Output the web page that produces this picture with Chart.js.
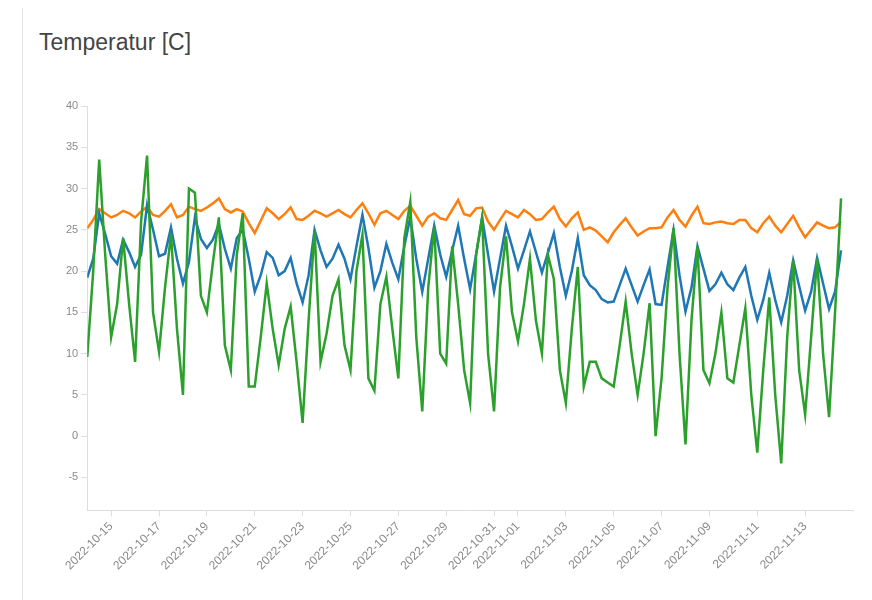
<!DOCTYPE html>
<html>
<head>
<meta charset="utf-8">
<script src="https://cdn.jsdelivr.net/npm/chart.js@4.4.0/dist/chart.umd.min.js"></script>
<style>
  body { margin: 0; background: #fff; font-family: "Liberation Sans", Arial, sans-serif; }
  .card { position: absolute; left: 22px; top: 8px; width: 850px; height: 592px; border-left: 1px solid #e6e6e6; }
  h3 { position: absolute; left: 16px; top: 21px; margin: 0; font-size: 23px; font-weight: normal; color: #444; }
  .wrap { position: absolute; left: 10px; top: 88px; width: 832px; height: 480px; }
</style>
</head>
<body>
<div class="card">
  <h3>Temperatur [C]</h3>
  <div class="wrap"><canvas id="chart"></canvas></div>
</div>
<script>
// ================== DATEN ==================
// Messwerte alle 6 Stunden ab 2022-10-14 00:00
const startDate = "2022-10-14";
const stepHours = 6;

const tickDates = [
  "2022-10-15", "2022-10-17", "2022-10-19", "2022-10-21", "2022-10-23",
  "2022-10-25", "2022-10-27", "2022-10-29", "2022-10-31", "2022-11-01",
  "2022-11-03", "2022-11-05", "2022-11-07", "2022-11-09", "2022-11-11",
  "2022-11-13"
];
const yTicks = [-5, 0, 5, 10, 15, 20, 25, 30, 35, 40];

const blau = [
  19.2, 21.5, 27, 24.5,   21.8, 20.9, 23.8, 22.3,   20.5, 22, 28, 25,
  21.8, 22.1, 25.3, 21.5, 18.5, 21.1, 26.5, 23.9,   22.8, 23.8, 25.7, 22.7,
  20.3, 24, 25, 21.5,     17.5, 19.5, 22.3, 21.6,   19.5, 20, 21.6, 18.5,
  16.2, 19.5, 25, 22.5,   20.5, 21.5, 23.2, 21.5,   19, 23, 26.8, 22.8,
  18, 20, 23.3, 21,       19, 23, 26.5, 21.5,       17.5, 21.5, 25.5, 22,
  19.3, 22.5, 25.5, 21.5, 17.8, 22, 26.5, 22,       17.5, 21.5, 25.5, 23,
  20.3, 22.5, 24.8, 22.3, 19.8, 22.2, 24.6, 20.5,   17, 20, 24, 19.5,
  18.3, 17.7, 16.6, 16.2, 16.3, 18.3, 20.3, 18.3,   16.3, 18.3, 20.2, 16,
  15.9, 20.5, 25, 19.5,   15.1, 18, 23, 20.3,       17.6, 18.4, 19.8, 18.4,
  17.7, 19.2, 20.5, 17,   14.1, 16.5, 19.8, 16.5,   13.8, 17, 21.3, 18.2,
  15.2, 17.5, 21.6, 18.5, 15.4, 17.5, 22.5
];

const orange = [
  25.2, 26.2, 27.5, 27,   26.5, 26.8, 27.3, 27,     26.5, 27.2, 27.8, 26.8,
  26.6, 27.3, 28.1, 26.5, 26.8, 27.8, 27.5, 27.3,   27.7, 28.2, 28.8, 27.5,
  27.1, 27.5, 27.2, 25.8, 24.6, 26.1, 27.6, 27,     26.3, 26.9, 27.7, 26.3,
  26.2, 26.7, 27.3, 27,   26.6, 27, 27.4, 26.9,     26.5, 27.4, 28.2, 27,
  25.6, 27, 27.3, 26.8,   26.3, 27.3, 27.9, 26.7,   25.5, 26.6, 27, 26.4,
  26.2, 27.4, 28.6, 26.9, 26.7, 27.6, 27.7, 26,     25, 26.2, 27.3, 26.9,
  26.5, 27.4, 26.9, 26.2, 26.3, 27.1, 27.8, 26.3,   25.4, 26.4, 27.1, 25,
  25.3, 24.9, 24.2, 23.5, 24.7, 25.6, 26.4, 25.3,   24.3, 24.8, 25.2, 25.2,
  25.3, 26.5, 27.4, 26.2, 25.4, 26.7, 27.8, 25.8,   25.7, 25.9, 26, 25.8,
  25.7, 26.2, 26.2, 25.2, 24.7, 25.8, 26.6, 25.5,   24.7, 25.7, 26.7, 25.3,
  24.1, 25, 25.9, 25.5,   25.2, 25.3, 26
];

const gruen = [
  9.6, 20, 33.5, 22,      12, 16, 24, 16,           9, 26, 34, 15,
  10.2, 18, 24.5, 13,     5, 30, 29.5, 17,          15, 21, 26.5, 11,
  8, 22, 27, 6,           6, 12, 18.5, 13,          8.6, 13, 15.7, 9,
  1.6, 14, 25, 9,         12.4, 17, 19, 11,         8, 20, 24.4, 7,
  5.5, 16, 19.3, 13,      7, 24, 28.4, 12,          3, 18, 25.4, 10,
  8.8, 23, 16, 8,         4, 22, 26.4, 10,          3, 18, 24.2, 15,
  11.5, 16, 21.5, 14,     10, 22, 19, 8,            4, 13, 20.5, 6,
  9, 9, 7, 6.5,           6, 11, 16.3, 10,          5, 10, 16.1, 0,
  7, 18, 25.2, 10,        -1, 14, 23, 8,            6.4, 10, 15, 7,
  6.5, 11, 15.5, 5,       -2, 8, 16.8, 5,           -3.3, 12, 21.3, 8,
  2.6, 12, 21.5, 10,      2.3, 15, 28.8
];

// ================== HILFEN ==================
const t0 = Date.parse(startDate);
function stunden(d) { return (Date.parse(d) - t0) / 3600000; }
function punkte(werte) { return werte.map((v, i) => ({ x: i * stepHours, y: v })); }

const achsenFarbe = "#dedede";
const textFarbe = "#8a8a8a";

// ================== DIAGRAMM ==================
new Chart(document.getElementById("chart"), {
  type: "line",
  data: {
    datasets: [
      { label: "Außen", data: punkte(gruen), borderColor: "#2ca02c", order: 0 },
      { label: "Vorlauf", data: punkte(blau), borderColor: "#1f77b4", order: 1 },
      { label: "Innen", data: punkte(orange), borderColor: "#ff7f0e", order: 2 }
    ]
  },
  options: {
    responsive: true,
    maintainAspectRatio: false,
    animation: false,
    elements: {
      line: { borderWidth: 2.5, tension: 0, fill: false },
      point: { radius: 0 }
    },
    layout: { padding: { left: 30, right: 12, top: 10, bottom: 0 } },
    plugins: { legend: { display: false }, tooltip: { enabled: false } },
    scales: {
      x: {
        type: "linear",
        min: 0,
        max: stunden("2022-11-15"),
        afterBuildTicks: s => { s.ticks = tickDates.map(d => ({ value: stunden(d) })); },
        ticks: {
          autoSkip: false, minRotation: 45, maxRotation: 45,
          color: textFarbe, font: { size: 12 },
          callback: (v, i) => tickDates[i]
        },
        grid: { drawOnChartArea: false, tickLength: 6, color: achsenFarbe },
        border: { color: achsenFarbe }
      },
      y: {
        min: -9,
        max: 40,
        afterBuildTicks: s => { s.ticks = yTicks.map(v => ({ value: v })); },
        ticks: { color: textFarbe, font: { size: 11 } },
        grid: { drawOnChartArea: false, tickLength: 6, color: achsenFarbe },
        border: { color: achsenFarbe }
      }
    }
  }
});
</script>
</body>
</html>
